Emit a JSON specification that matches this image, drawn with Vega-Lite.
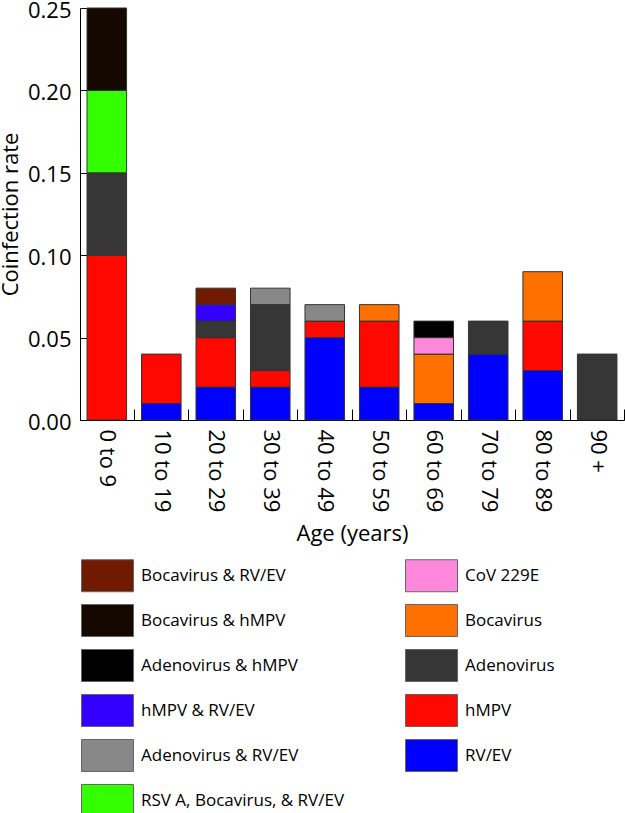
{
  "$schema": "https://vega.github.io/schema/vega-lite/v6.json",
  "autosize": {"type": "none"},
  "width": 544,
  "height": 412,
  "padding": {"left": 80, "top": 8, "right": 1, "bottom": 393},
  "background": "white",
  "config": {
    "view": {"stroke": null},
    "font": "Open Sans",
    "axis": {
      "domainColor": "black",
      "domainWidth": 1,
      "tickColor": "black",
      "tickWidth": 1,
      "labelColor": "black",
      "titleColor": "black",
      "titleFontWeight": "normal",
      "labelFontSize": 22,
      "titleFontSize": 22,
      "labelFont": "Open Sans",
      "titleFont": "Open Sans",
      "grid": false
    },
    "legend": {"labelFont": "Open Sans"}
  },
  "datasets": {
    "rates": [
      {"age": "0 to 9", "type": "hMPV", "rate": 0.10},
      {"age": "0 to 9", "type": "Adenovirus", "rate": 0.05},
      {"age": "0 to 9", "type": "RSV A, Bocavirus, & RV/EV", "rate": 0.05},
      {"age": "0 to 9", "type": "Bocavirus & hMPV", "rate": 0.05},
      {"age": "10 to 19", "type": "RV/EV", "rate": 0.01},
      {"age": "10 to 19", "type": "hMPV", "rate": 0.03},
      {"age": "20 to 29", "type": "RV/EV", "rate": 0.02},
      {"age": "20 to 29", "type": "hMPV", "rate": 0.03},
      {"age": "20 to 29", "type": "Adenovirus", "rate": 0.01},
      {"age": "20 to 29", "type": "hMPV & RV/EV", "rate": 0.01},
      {"age": "20 to 29", "type": "Bocavirus & RV/EV", "rate": 0.01},
      {"age": "30 to 39", "type": "RV/EV", "rate": 0.02},
      {"age": "30 to 39", "type": "hMPV", "rate": 0.01},
      {"age": "30 to 39", "type": "Adenovirus", "rate": 0.04},
      {"age": "30 to 39", "type": "Adenovirus & RV/EV", "rate": 0.01},
      {"age": "40 to 49", "type": "RV/EV", "rate": 0.05},
      {"age": "40 to 49", "type": "hMPV", "rate": 0.01},
      {"age": "40 to 49", "type": "Adenovirus & RV/EV", "rate": 0.01},
      {"age": "50 to 59", "type": "RV/EV", "rate": 0.02},
      {"age": "50 to 59", "type": "hMPV", "rate": 0.04},
      {"age": "50 to 59", "type": "Bocavirus", "rate": 0.01},
      {"age": "60 to 69", "type": "RV/EV", "rate": 0.01},
      {"age": "60 to 69", "type": "Bocavirus", "rate": 0.03},
      {"age": "60 to 69", "type": "CoV 229E", "rate": 0.01},
      {"age": "60 to 69", "type": "Adenovirus & hMPV", "rate": 0.01},
      {"age": "70 to 79", "type": "RV/EV", "rate": 0.04},
      {"age": "70 to 79", "type": "Adenovirus", "rate": 0.02},
      {"age": "80 to 89", "type": "RV/EV", "rate": 0.03},
      {"age": "80 to 89", "type": "hMPV", "rate": 0.03},
      {"age": "80 to 89", "type": "Bocavirus", "rate": 0.03},
      {"age": "90 +", "type": "Adenovirus", "rate": 0.04}
    ],
    "types": [
      {"type": "RV/EV", "rank": 1},
      {"type": "hMPV", "rank": 2},
      {"type": "Adenovirus", "rank": 3},
      {"type": "Bocavirus", "rank": 4},
      {"type": "CoV 229E", "rank": 5},
      {"type": "RSV A, Bocavirus, & RV/EV", "rank": 6},
      {"type": "Adenovirus & RV/EV", "rank": 7},
      {"type": "hMPV & RV/EV", "rank": 8},
      {"type": "Adenovirus & hMPV", "rank": 9},
      {"type": "Bocavirus & hMPV", "rank": 10},
      {"type": "Bocavirus & RV/EV", "rank": 11}
    ]
  },
  "data": {"name": "rates"},
  "transform": [
    {"lookup": "type", "from": {"data": {"name": "types"}, "key": "type", "fields": ["rank"]}}
  ],
  "mark": {"type": "bar", "stroke": "#333333", "strokeWidth": 1},
  "encoding": {
    "x": {
      "field": "age",
      "type": "nominal",
      "sort": null,
      "scale": {"paddingInner": 0.274, "paddingOuter": 0.129},
      "axis": {
        "title": "Age (years)",
        "labelAngle": 90,
        "tickSize": -11,
        "tickOffset": 27,
        "labelOffset": -27,
        "labelPadding": 20,
        "titlePadding": 12
      }
    },
    "y": {
      "field": "rate",
      "type": "quantitative",
      "stack": "zero",
      "scale": {"domain": [0, 0.25], "nice": false},
      "axis": {
        "title": "Coinfection rate",
        "values": [0, 0.05, 0.1, 0.15, 0.2, 0.25],
        "format": ".2f",
        "tickSize": -7,
        "labelPadding": 16,
        "labelOffset": 2,
        "labelFlush": false,
        "labelOverlap": false,
        "titlePadding": 5
      }
    },
    "color": {
      "field": "type",
      "type": "nominal",
      "scale": {
        "domain": ["Bocavirus & RV/EV", "Bocavirus & hMPV", "Adenovirus & hMPV", "hMPV & RV/EV", "Adenovirus & RV/EV", "RSV A, Bocavirus, & RV/EV", "CoV 229E", "Bocavirus", "Adenovirus", "hMPV", "RV/EV"],
        "range": ["#701a00", "#140800", "#000000", "#3300ff", "#888888", "#33ff00", "#ff88dd", "#ff7000", "#363636", "#ff0800", "#0000ff"]
      },
      "legend": {
        "orient": "none",
        "legendX": 1,
        "legendY": 541,
        "columns": 2,
        "title": null,
        "padding": 0,
        "symbolType": "M-1,-0.615L1,-0.615L1,0.615L-1,0.615Z",
        "symbolSize": 2704,
        "symbolStrokeColor": "#666666",
        "symbolStrokeWidth": 1,
        "symbolOpacity": 1,
        "labelFontSize": 17,
        "labelColor": "black",
        "labelOffset": 7,
        "labelLimit": 400,
        "columnPadding": 58,
        "rowPadding": -1
      }
    },
    "order": {"field": "rank", "type": "quantitative", "sort": "ascending"}
  }
}
